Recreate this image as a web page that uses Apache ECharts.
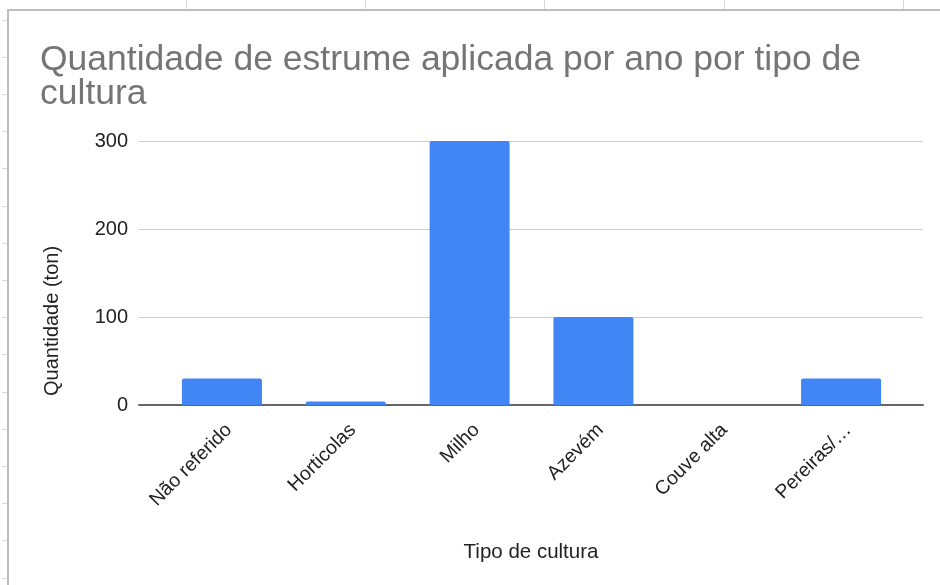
<!DOCTYPE html>
<html>
<head>
<meta charset="utf-8">
<script src="https://cdn.jsdelivr.net/npm/echarts@6/dist/echarts.min.js"></script>
<style>html,body{margin:0;padding:0;background:#fff}#c{width:940px;height:585px}</style>
</head>
<body>
<div id="c"></div>
<script>
var categories = ['Não referido', 'Horticolas', 'Milho', 'Azevém', 'Couve alta', 'Pereiras/…'];
var values = [30, 4, 300, 100, 0, 30];
var yTicks = { min: 0, max: 300, interval: 100 };
var titleText = 'Quantidade de estrume aplicada por ano por tipo de\ncultura';
var yName = 'Quantidade (ton)';
var xName = 'Tipo de cultura';

var FONT = '"Liberation Sans", Arial, sans-serif';
var chart = echarts.init(document.getElementById('c'), null, { renderer: 'canvas' });

var deco = [];
// sheet border
deco.push({ type: 'line', shape: { x1: 7, y1: 10, x2: 940, y2: 10 }, style: { stroke: '#bdbdbd', lineWidth: 2 }, silent: true });
deco.push({ type: 'line', shape: { x1: 8, y1: 10, x2: 8, y2: 585 }, style: { stroke: '#bdbdbd', lineWidth: 2 }, silent: true });
[186, 365, 544, 724, 903].forEach(function (x) {
  deco.push({ type: 'line', shape: { x1: x + 0.5, y1: 0, x2: x + 0.5, y2: 9 }, style: { stroke: '#dadada', lineWidth: 1 }, silent: true });
});
for (var k = 0; k < 16; k++) {
  var yy = Math.round(19.6 + 37.2 * k) + 0.5;
  if (yy > 585) break;
  deco.push({ type: 'line', shape: { x1: 2, y1: yy, x2: 7, y2: yy }, style: { stroke: '#dadada', lineWidth: 1 }, silent: true });
}
deco.push({
  type: 'text', x: 52, y: 321, rotation: Math.PI / 2,
  style: { text: yName, font: '20px ' + FONT, fill: '#222', textAlign: 'center', textVerticalAlign: 'middle' },
  silent: true
});

chart.setOption({
  animation: false,
  backgroundColor: '#fff',
  title: {
    text: titleText, left: 35, top: 38,
    textStyle: { fontFamily: FONT, fontSize: 35.5, fontWeight: 'normal', color: '#757575', lineHeight: 34 }
  },
  graphic: deco,
  grid: [
    { left: 139, right: 17, top: 141, bottom: 180 },
    { left: 160, right: 37, top: 141, bottom: 180 }
  ],
  xAxis: [
    {
      gridIndex: 0, type: 'category', data: categories, boundaryGap: true,
      axisLine: { show: true, lineStyle: { color: '#666', width: 2 } },
      axisTick: { show: false }, axisLabel: { show: false }, splitLine: { show: false },
      name: xName, nameLocation: 'middle', nameGap: 137,
      nameTextStyle: { fontFamily: FONT, fontSize: 20.5, color: '#222' }
    },
    {
      gridIndex: 1, type: 'category', data: categories,
      axisLine: { show: false }, axisTick: { show: false },
      axisLabel: { rotate: 45, margin: 15, fontFamily: FONT, fontSize: 19.5, color: '#222', interval: 0, verticalAlign: 'top' }
    }
  ],
  yAxis: [
    {
      gridIndex: 0, type: 'value', min: yTicks.min, max: yTicks.max, interval: yTicks.interval,
      axisLine: { show: false }, axisTick: { show: false },
      axisLabel: { margin: 11, fontFamily: FONT, fontSize: 20, color: '#222' },
      splitLine: { lineStyle: { color: '#cccccc', width: 1 } }
    },
    {
      gridIndex: 1, type: 'value', min: yTicks.min, max: yTicks.max, interval: yTicks.interval,
      show: false, splitLine: { show: false }
    }
  ],
  series: [{
    type: 'bar', xAxisIndex: 1, yAxisIndex: 1, data: values, barWidth: 80,
    itemStyle: { color: '#4285f4', borderRadius: [2, 2, 0, 0] }, z: 1
  }]
});
</script>
</body>
</html>
